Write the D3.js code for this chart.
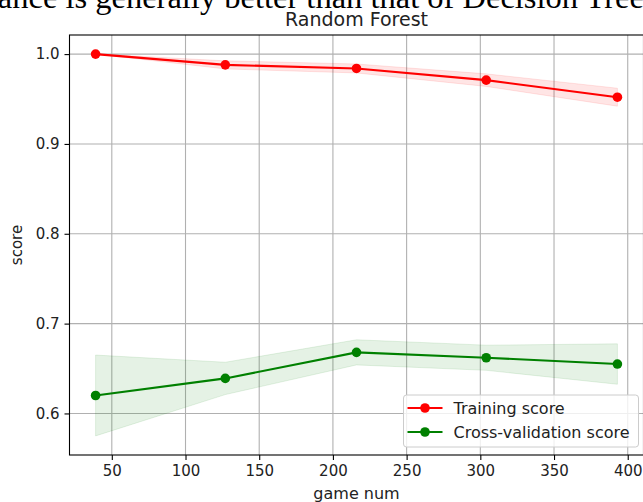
<!DOCTYPE html>
<html>
<head>
<meta charset="utf-8">
<script src="https://cdn.jsdelivr.net/npm/d3@7"></script>
<style>
  body { margin: 0; background: #fff; }
  svg { display: block; }
  text { font-family: "DejaVu Sans", sans-serif; fill: #222; }
</style>
</head>
<body>
<svg width="643" height="502"></svg>
<script>
// learning curve values
const trainSizes = [39, 127, 216, 304, 393]
const trainMean = [1.0, 0.988, 0.984, 0.971, 0.952]
const trainStd = [0.0, 0.0045, 0.005, 0.007, 0.010]
const cvMean = [0.620, 0.639, 0.668, 0.662, 0.655]
const cvStd = [0.045, 0.018, 0.014, 0.014, 0.0225]
const xTicks = [50, 100, 150, 200, 250, 300, 350, 400]
const yTicks = [0.6, 0.7, 0.8, 0.9, 1.0]
const seriesNames = ['Training score', 'Cross-validation score']

const svg = d3.select('svg')
const margin = { left: 69.5, top: 35, right: 643.5, bottom: 455 }

// matplotlib style 5% padding around the data
const pad = (lo, hi) => [lo - (hi - lo) * 0.05, hi + (hi - lo) * 0.05]
const allLow = trainMean.map((m, i) => m - trainStd[i]).concat(cvMean.map((m, i) => m - cvStd[i]))
const allHigh = trainMean.map((m, i) => m + trainStd[i]).concat(cvMean.map((m, i) => m + cvStd[i]))

const xScale = d3.scaleLinear()
  .domain(pad(d3.min(trainSizes), d3.max(trainSizes)))
  .range([margin.left, margin.right])
const yScale = d3.scaleLinear()
  .domain(pad(d3.min(allLow), d3.max(allHigh)))
  .range([margin.bottom, margin.top])

// text cut off at the top of the figure
svg.append('text')
  .attr('x', -27.5)
  .attr('y', 8)
  .style('font-family', '"Liberation Serif", serif')
  .style('font-size', '32.5px')
  .style('fill', '#000')
  .text('mance is generally better than that of Decision Tree')

// grid
const grid = svg.append('g')
grid.selectAll('.gx')
  .data(xTicks)
  .enter()
  .append('line')
  .attr('x1', d => xScale(d)).attr('x2', d => xScale(d))
  .attr('y1', margin.top).attr('y2', margin.bottom)
  .attr('stroke', '#b0b0b0').attr('stroke-width', 1.1)
grid.selectAll('.gy')
  .data(yTicks)
  .enter()
  .append('line')
  .attr('x1', margin.left).attr('x2', margin.right)
  .attr('y1', d => yScale(d)).attr('y2', d => yScale(d))
  .attr('stroke', '#b0b0b0').attr('stroke-width', 1.1)

const series = [
  { name: seriesNames[0], mean: trainMean, std: trainStd, color: '#ff0000', fill: 'rgba(255,0,0,0.1)' },
  { name: seriesNames[1], mean: cvMean, std: cvStd, color: '#008000', fill: 'rgba(0,128,0,0.1)' }
]

const band = d3.area()
  .x(d => xScale(d.x))
  .y0(d => yScale(d.m - d.s))
  .y1(d => yScale(d.m + d.s))
const line = d3.line()
  .x(d => xScale(d.x))
  .y(d => yScale(d.m))

series.forEach(s => {
  const pts = trainSizes.map((x, i) => ({ x: x, m: s.mean[i], s: s.std[i] }))
  svg.append('path')
    .datum(pts)
    .attr('d', band)
    .attr('fill', s.fill)
    .attr('stroke', s.fill)
})

series.forEach(s => {
  const pts = trainSizes.map((x, i) => ({ x: x, m: s.mean[i] }))
  svg.append('path')
    .datum(pts)
    .attr('d', line)
    .attr('fill', 'none')
    .attr('stroke', s.color)
    .attr('stroke-width', 2.1)
  svg.selectAll(null)
    .data(pts)
    .enter()
    .append('circle')
    .attr('cx', d => xScale(d.x))
    .attr('cy', d => yScale(d.m))
    .attr('r', 4.8)
    .attr('fill', s.color)
})

// axes
const xAxis = svg.append('g')
  .attr('transform', `translate(0,${margin.bottom})`)
  .call(d3.axisBottom(xScale).tickValues(xTicks).tickSize(5).tickPadding(5).tickFormat(d3.format('d')))
const yAxis = svg.append('g')
  .attr('transform', `translate(${margin.left},0)`)
  .call(d3.axisLeft(yScale).tickValues(yTicks).tickSize(5).tickPadding(5).tickFormat(d3.format('.1f')))
;[xAxis, yAxis].forEach(a => {
  a.select('.domain').remove()
  a.selectAll('line').attr('stroke', '#000').attr('stroke-width', 1.1)
  a.selectAll('text').style('font-size', '15px').style('fill', '#222')
    .style('font-family', '"DejaVu Sans", sans-serif')
})

// spines
svg.append('rect')
  .attr('x', margin.left).attr('y', margin.top)
  .attr('width', margin.right - margin.left).attr('height', margin.bottom - margin.top)
  .attr('fill', 'none').attr('stroke', '#000').attr('stroke-width', 1.1)

// labels
svg.append('text')
  .attr('x', (margin.left + margin.right) / 2).attr('y', 26)
  .attr('text-anchor', 'middle')
  .style('font-size', '19px')
  .text('Random Forest')
svg.append('text')
  .attr('x', (margin.left + margin.right) / 2).attr('y', 499)
  .attr('text-anchor', 'middle')
  .style('font-size', '16px')
  .text('game num')
svg.append('text')
  .attr('transform', `translate(22,${(margin.top + margin.bottom) / 2}) rotate(-90)`)
  .attr('text-anchor', 'middle')
  .style('font-size', '15px')
  .text('score')

// legend
const legend = svg.append('g')
  .attr('transform', `translate(${margin.right - 240},${margin.bottom - 60})`)
legend.append('rect')
  .attr('width', 235).attr('height', 52).attr('rx', 3)
  .attr('fill', 'rgba(255,255,255,0.8)').attr('stroke', '#cccccc')
const items = legend.selectAll('.item')
  .data(series)
  .enter()
  .append('g')
  .attr('transform', (d, i) => `translate(0,${13 + i * 24})`)
items.append('line')
  .attr('x1', 4).attr('x2', 39)
  .attr('stroke', d => d.color).attr('stroke-width', 2.1)
items.append('circle')
  .attr('cx', 21.5).attr('r', 4.8)
  .attr('fill', d => d.color)
items.append('text')
  .attr('x', 50).attr('dy', '0.35em')
  .style('font-size', '16px')
  .text(d => d.name)
</script>
</body>
</html>
